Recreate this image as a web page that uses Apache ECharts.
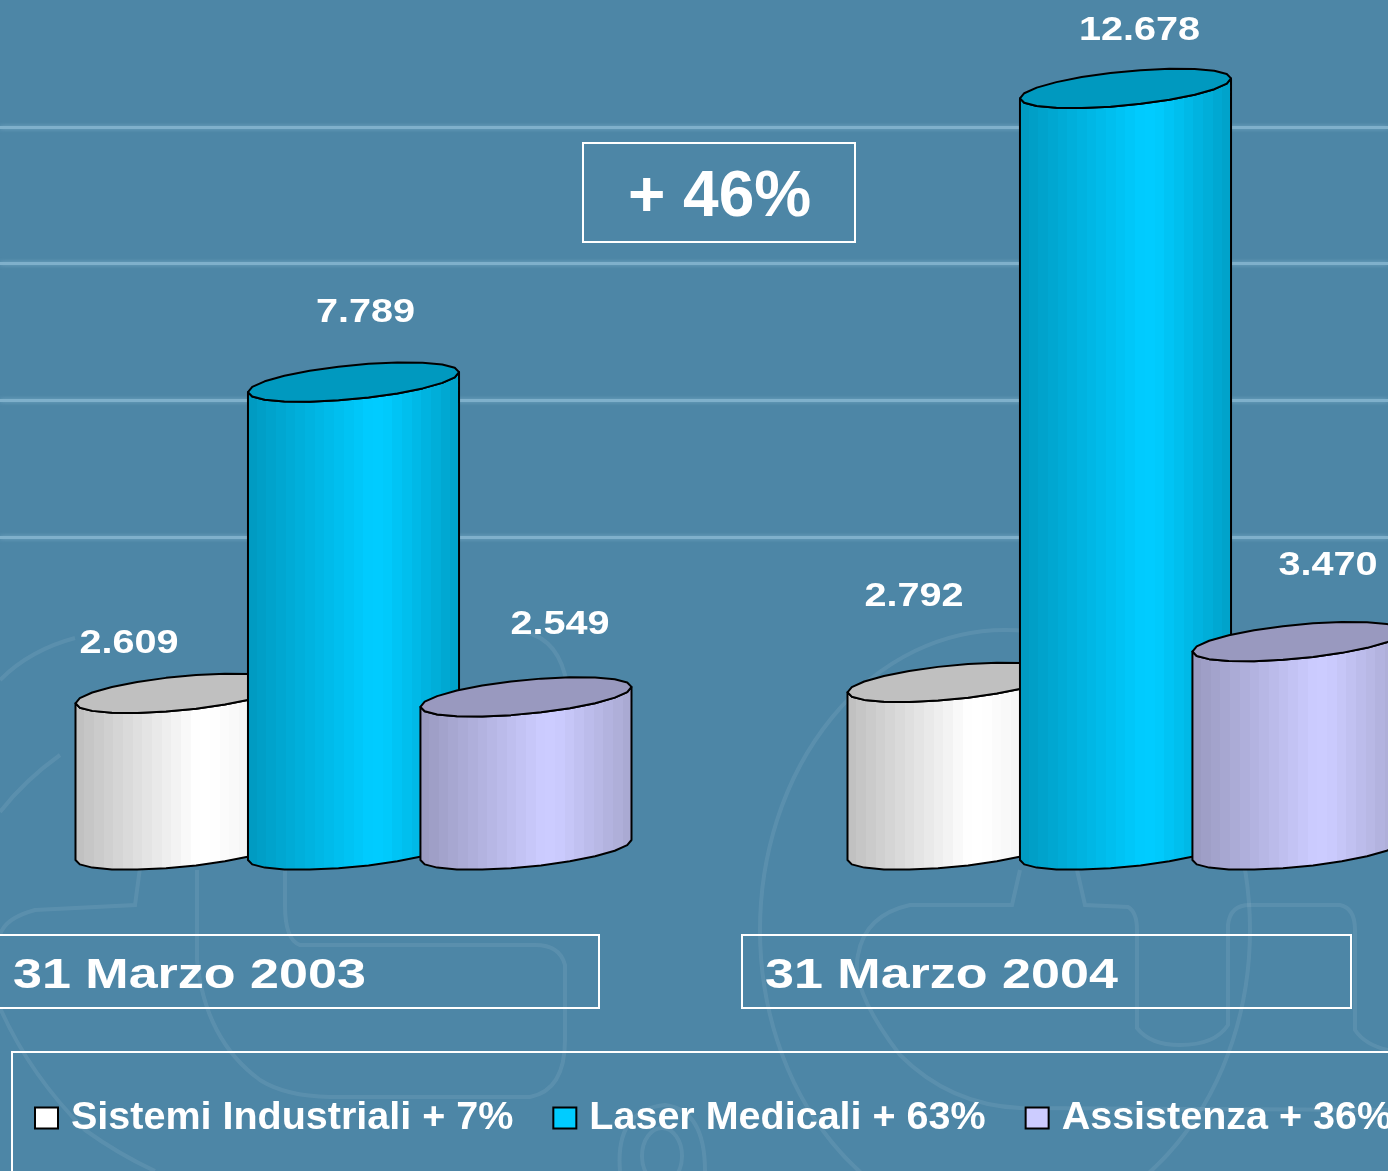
<!DOCTYPE html>
<html>
<head>
<meta charset="utf-8">
<title>Fatturato</title>
<script src="https://cdn.jsdelivr.net/npm/echarts@6/dist/echarts.min.js"></script>
<style>
    html, body { margin: 0; padding: 0; background: #4d86a6; }
    #chart { width: 1388px; height: 1171px; }
</style>
</head>
<body>
<div id="chart"></div>
<script>
// valori
var categories = ['31 Marzo 2003', '31 Marzo 2004'];
var seriesNames = ['Sistemi Industriali + 7%', 'Laser Medicali + 63%', 'Assistenza + 36%'];
var sistemiIndustriali = [2609, 2792];
var laserMedicali = [7789, 12678];
var assistenza = [2549, 3470];
var deltaLabel = '+ 46%';

// stile e posizione, separati dai dati
var FONT = '"Liberation Sans", Arial, sans-serif';
var swatchColors = ['#ffffff', '#00ccff', '#ccccff'];
var sideDark = [[190, 190, 190], [0, 153, 191], [153, 153, 191]];
var sideLight = [[255, 255, 255], [0, 204, 255], [204, 204, 255]];
var sideRight = [[235, 235, 235], [0, 160, 200], [168, 168, 208]];
var topColors = ['#c0c0c0', '#0099bf', '#9999bf'];
// spostamento a mano delle etichette rispetto al centro del coperchio
var labelOffsets = [
    [[-52, -49], [-39, -85]],
    [[12, -69], [14, -58]],
    [[34, -72], [30, -76]]
];

function bandGradient(idx) {
    var stops = [];
    var bands = 22;
    for (var i = 0; i < bands; i++) {
        var p = (i + 0.5) / bands, c = [];
        for (var k = 0; k < 3; k++) {
            c[k] = p < 0.64
                ? sideDark[idx][k] + (sideLight[idx][k] - sideDark[idx][k]) * Math.min(1, p / 0.58)
                : sideLight[idx][k] + (sideRight[idx][k] - sideLight[idx][k]) * (p - 0.64) / 0.36;
        }
        var col = 'rgb(' + c.map(Math.round).join(',') + ')';
        stops.push({ offset: i / bands, color: col }, { offset: (i + 1) / bands, color: col });
    }
    return { type: 'linear', x: 0, y: 0, x2: 1, y2: 0, colorStops: stops };
}

// punti del bordo ellittico inclinato, da sinistra a destra
function arcPoints(cx, cy, a, front) {
    var pts = [], n = 11;
    for (var i = 0; i <= n; i++) {
        var t = Math.PI - Math.PI * i / n;
        var s = front ? -1 : 1;
        pts.push([cx + a * Math.cos(t), cy - 10 * Math.cos(t) - 17 * s * Math.sin(t)]);
    }
    return pts;
}

function cylinderSeries(name, values, idx) {
    return {
        name: name,
        type: 'custom',
        clip: false,
        z: 3 + idx,
        xAxisIndex: 0,
        yAxisIndex: 0,
        itemStyle: { color: swatchColors[idx] },
        encode: { x: 0, y: 1 },
        data: values.map(function (v, i) { return [i, v]; }),
        renderItem: function (params, api) {
            var i = api.value(0);
            var v = api.value(1);
            var band = api.size([1, 0])[0];
            var base = api.coord([i, 0]);
            var top = api.coord([i, v]);
            var cx = base[0] + (idx - 1) * band * 0.2234;
            var a = band * 0.1367;
            var front = arcPoints(cx, base[1], a, true);
            var topFront = arcPoints(cx, top[1], a, true);
            var topBack = arcPoints(cx, top[1], a, false).reverse();
            var off = labelOffsets[idx][i];
            var label = String(v).replace(/\B(?=(\d{3})+$)/g, '.');
            return {
                type: 'group',
                children: [{
                    type: 'polygon',
                    shape: { points: front.concat(topFront.slice().reverse()) },
                    style: { fill: bandGradient(idx), stroke: '#000', lineWidth: 2, lineJoin: 'round' }
                }, {
                    type: 'polygon',
                    shape: { points: topFront.concat(topBack) },
                    style: { fill: topColors[idx], stroke: '#000', lineWidth: 2, lineJoin: 'round' }
                }, {
                    type: 'text',
                    x: cx + off[0],
                    y: top[1] + off[1],
                    scaleX: 1.2,
                    style: {
                        text: label,
                        fill: '#fff',
                        font: 'bold 33px ' + FONT,
                        align: 'center',
                        verticalAlign: 'middle'
                    }
                }]
            };
        }
    };
}

// logo di sfondo, quasi invisibile
var logoStroke = { fill: null, stroke: 'rgba(255,255,255,0.08)', lineWidth: 4 };
var logoPaths = [
    'M760 930 A245 300 0 1 1 1250 930 A245 300 0 1 1 760 930',
    'M642 1156 A20 28 0 1 1 682 1156 A20 28 0 1 1 642 1156',
    'M1077 870 L1085 905 L1128 907 Q1137 912 1137 930 L1137 1028 Q1150 1045 1180 1045 Q1215 1045 1228 1025 L1228 925 Q1230 905 1250 905 L1340 905 Q1355 908 1355 930 L1355 1030 Q1365 1045 1388 1050',
    'M1020 870 L1012 905 L910 905 Q865 915 858 955 Q850 990 900 1055 Q950 1105 1020 1108 L1388 1110',
    'M0 680 Q30 650 75 638',
    'M525 632 Q560 640 567 685',
    'M0 812 Q25 780 60 755',
    'M140 868 L135 905 L35 910 Q5 918 0 935',
    'M197 870 L197 960 Q205 1040 260 1080 Q285 1096 330 1097 L530 1097 Q565 1090 565 1040 L565 965 Q560 945 535 945 L300 945 Q285 940 285 905 L285 870',
    'M0 1008 Q30 1075 85 1130 Q120 1155 155 1171',
    'M620 1171 Q615 1110 665 1105 Q705 1110 705 1171'
];

var graphics = logoPaths.map(function (d, i) {
    var name = 'logoPath' + i;
    echarts.graphic.registerShape(name, echarts.graphic.extendPath(d, {}));
    return { type: name, z: 0, silent: true, style: logoStroke };
});

// riquadro + 46%
graphics.push({
    type: 'rect', z: 6,
    shape: { x: 583, y: 143, width: 272, height: 99 },
    style: { fill: null, stroke: '#fff', lineWidth: 2 }
}, {
    type: 'text', z: 6, x: 719.5, y: 198,
    style: { text: deltaLabel, fill: '#fff', font: 'bold 64px ' + FONT, align: 'center', verticalAlign: 'middle' }
});

// riquadri delle date
var dateBoxX = [-10, 742];
var dateBoxW = [609, 609];
var dateTextX = [13, 765];
categories.forEach(function (c, i) {
    graphics.push({
        type: 'rect', z: 6,
        shape: { x: dateBoxX[i], y: 935, width: dateBoxW[i], height: 73 },
        style: { fill: null, stroke: '#fff', lineWidth: 2 }
    }, {
        type: 'text', z: 6, x: dateTextX[i], y: 976, scaleX: 1.21,
        style: { text: c, fill: '#fff', font: 'bold 43px ' + FONT, align: 'left', verticalAlign: 'middle' }
    });
});

var option = {
    backgroundColor: '#4d86a6',
    animation: false,
    tooltip: { show: false },
    graphic: { elements: graphics },
    legend: {
        left: 12,
        top: 1052,
        width: 1700,
        padding: [46, 20, 42, 22],
        borderColor: '#fff',
        borderWidth: 2,
        icon: 'rect',
        itemWidth: 23,
        itemHeight: 21,
        itemGap: 39,
        selectedMode: false,
        itemStyle: { borderColor: '#000', borderWidth: 2 },
        textStyle: {
            color: '#fff',
            fontSize: 39.5,
            fontWeight: 'bold',
            fontFamily: FONT,
            padding: [0, 0, 0, 8]
        },
        data: seriesNames
    },
    grid: [
        // colonne: zero a y=850
        { left: -32.5, width: 1544, top: 9, height: 841, outerBoundsMode: 'none' },
        // linee della parete di fondo
        { left: 0, width: 1388, top: 127, height: 410, outerBoundsMode: 'none' }
    ],
    xAxis: [
        { type: 'category', gridIndex: 0, data: categories, show: false },
        { type: 'category', gridIndex: 1, data: categories, show: false }
    ],
    yAxis: [
        { type: 'value', gridIndex: 0, min: 0, max: 14000, show: false, splitLine: { show: false } },
        {
            type: 'value',
            gridIndex: 1,
            min: 0,
            max: 6000,
            interval: 2000,
            axisLabel: { show: false },
            axisLine: { show: false },
            axisTick: { show: false },
            splitLine: {
                show: true,
                lineStyle: {
                    color: '#7fb0cb',
                    width: 3,
                    shadowColor: 'rgba(127,176,203,0.8)',
                    shadowBlur: 4
                }
            }
        }
    ],
    series: [
        cylinderSeries(seriesNames[0], sistemiIndustriali, 0),
        cylinderSeries(seriesNames[1], laserMedicali, 1),
        cylinderSeries(seriesNames[2], assistenza, 2)
    ]
};

var myChart = echarts.init(document.getElementById('chart'));
myChart.setOption(option);
</script>
</body>
</html>
